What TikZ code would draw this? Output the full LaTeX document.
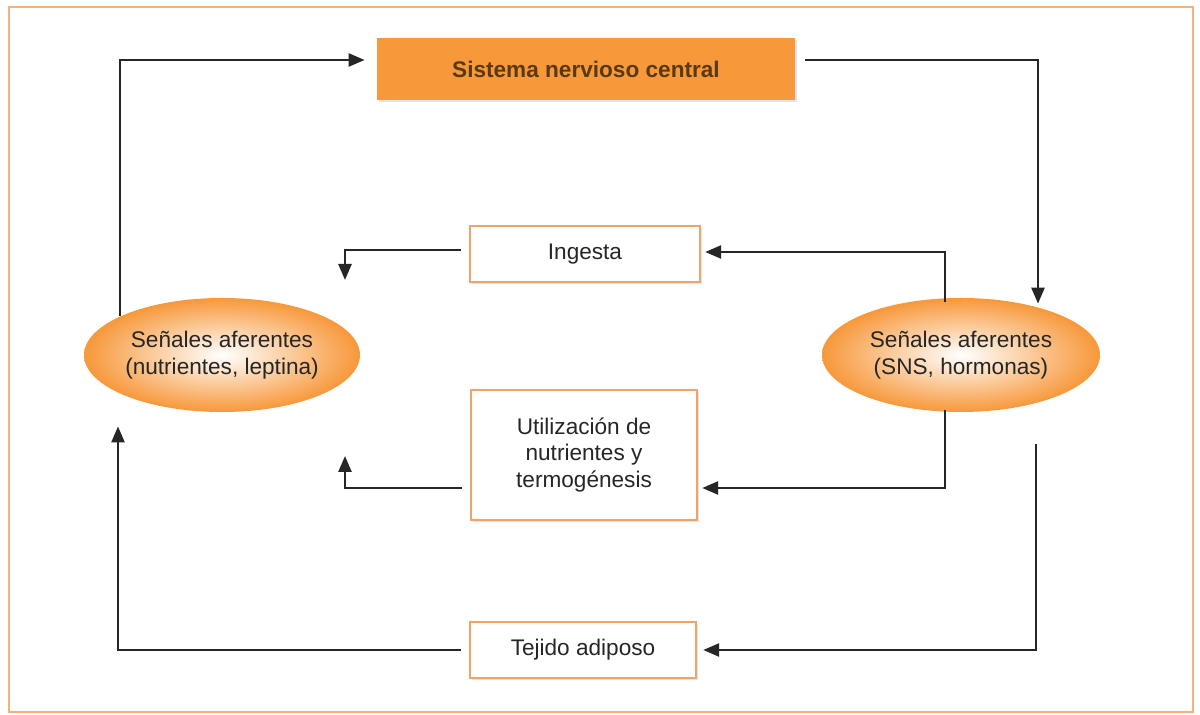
\documentclass[tikz,border=0pt]{standalone}
\usepackage{fontspec}
\setmainfont{Liberation Sans}
\usetikzlibrary{shapes.geometric,arrows.meta,shadows}
\definecolor{orfill}{HTML}{F7983A}
\definecolor{orline}{HTML}{EFA46A}
\definecolor{orframe}{HTML}{F4B27C}
\definecolor{txt}{HTML}{262626}
\definecolor{snctxt}{HTML}{5A3A12}
\tikzset{
  wbox/.style={draw=orline, line width=1.2pt, fill=white, text=txt, font=\fontsize{11.3}{13.3}\selectfont, align=center, inner sep=0pt,
    drop shadow={shadow xshift=1pt, shadow yshift=-1.2pt, fill=black!18, opacity=0.6}},
  oval/.style={ellipse, draw=none, inner sep=0pt, text=txt, font=\fontsize{11.3}{13.3}\selectfont, align=center,
    inner color=white, outer color=orfill},
  conn/.style={draw=black!85, line width=1.25pt, -{Triangle[length=8pt,width=6.5pt]}},
}
\begin{document}
\begin{tikzpicture}[x=0.5pt,y=-0.5pt]
\useasboundingbox (0,0) rectangle (1200,715);
\fill[white] (0,0) rectangle (1200,715);
\draw[orframe, line width=1.2pt] (9,7) rectangle (1193,712);

\node[draw=none, fill=orfill, minimum width=209pt, minimum height=31pt, inner sep=0pt,
  text=snctxt, font=\bfseries\fontsize{11.3}{13}\selectfont,
  drop shadow={shadow xshift=1pt, shadow yshift=-1.2pt, fill=black!18, opacity=0.6}]
  (snc) at (586,69) {Sistema nervioso central};
\node[wbox, minimum width=115pt, minimum height=28pt] (ing) at (585,254) {Ingesta};
\node[wbox, minimum width=113pt, minimum height=65pt] (uti) at (584,455) {Utilización de\\nutrientes y\\termogénesis};
\node[wbox, minimum width=113pt, minimum height=28pt] (tej) at (583,650) {Tejido adiposo};

\node[oval, minimum width=138pt, minimum height=57pt] (le) at (222,355) {Señales aferentes\\(nutrientes, leptina)};
\node[oval, minimum width=139pt, minimum height=57pt] (re) at (961,355) {Señales aferentes\\(SNS, hormonas)};

\coordinate (c1) at (120,60);
\coordinate (c2) at (1038,60);
\coordinate (c3) at (945,252);
\coordinate (c4) at (345,250);
\coordinate (c5) at (945,488);
\coordinate (c6) at (345,488);
\coordinate (c7) at (1036,650);
\coordinate (c8) at (118,650);

\draw[conn] (le.159.6 -| c1) -- (c1) -- ([xshift=-6pt]snc.west |- c1);
\draw[conn] ([xshift=5pt]snc.east |- c2) -- (c2) -- ([yshift=2pt]re.31.7 -| c2);
\draw[conn] ([yshift=-2pt]re.105.8 -| c3) -- (c3) -- ([xshift=2pt]ing.east |- c3);
\draw[conn] ([xshift=-4pt]ing.west |- c4) -- (c4) -- ([yshift=-15pt]c4);
\draw[conn] ([yshift=1pt]re.-105.8 -| c5) -- (c5) -- ([xshift=2pt]uti.east |- c5);
\draw[conn] ([xshift=-4pt]uti.west |- c6) -- (c6) -- ([yshift=16pt]c6);
\draw[conn] ([yshift=-16pt]re.south -| c7) -- (c7) -- ([xshift=3pt]tej.east |- c7);
\draw[conn] ([xshift=-4pt]tej.west |- c8) -- (c8) -- ([yshift=-7pt]le.south -| c8);
\end{tikzpicture}
\end{document}
